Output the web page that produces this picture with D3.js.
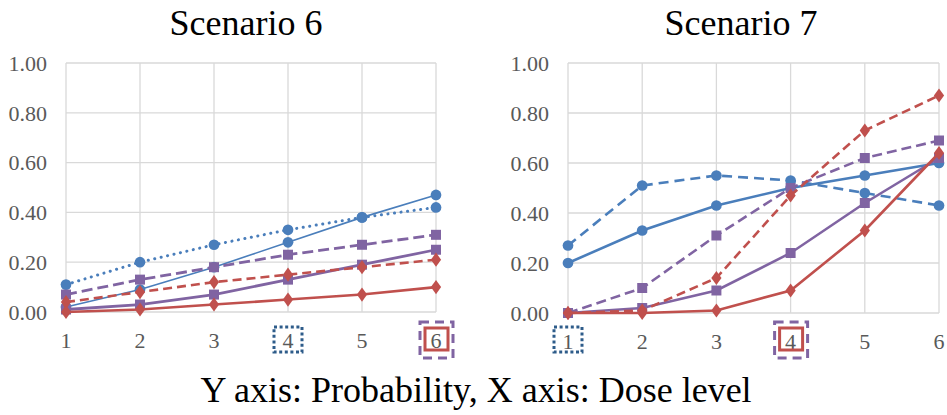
<!DOCTYPE html>
<html>
<head>
<meta charset="utf-8">
<script src="https://d3js.org/d3.v7.min.js"></script>
<style>
  body { margin: 0; background: #fff; }
</style>
</head>
<body>
<div id="chart"></div>
<script>
// dose levels and y ticks
const doses = [1, 2, 3, 4, 5, 6];
const yTicks = [0, 0.2, 0.4, 0.6, 0.8, 1.0];

// Scenario 6
const s6BlueSolid   = [0.02, 0.09, 0.18, 0.28, 0.38, 0.47];
const s6BlueDotted  = [0.11, 0.20, 0.27, 0.33, 0.38, 0.42];
const s6PurpleDash  = [0.07, 0.13, 0.18, 0.23, 0.27, 0.31];
const s6PurpleSolid = [0.01, 0.03, 0.07, 0.13, 0.19, 0.25];
const s6RedDash     = [0.04, 0.08, 0.12, 0.15, 0.18, 0.21];
const s6RedSolid    = [0.00, 0.01, 0.03, 0.05, 0.07, 0.10];

// Scenario 7
const s7BlueSolid   = [0.20, 0.33, 0.43, 0.50, 0.55, 0.60];
const s7BlueDash    = [0.27, 0.51, 0.55, 0.53, 0.48, 0.43];
const s7PurpleDash  = [0.00, 0.10, 0.31, 0.50, 0.62, 0.69];
const s7PurpleSolid = [0.00, 0.02, 0.09, 0.24, 0.44, 0.62];
const s7RedDash     = [0.00, 0.01, 0.14, 0.47, 0.73, 0.87];
const s7RedSolid    = [0.00, 0.00, 0.01, 0.09, 0.33, 0.64];

// highlighted dose labels
const s6Dotted = [4], s6Boxed = [6];
const s7Dotted = [1], s7Boxed = [4];

const blue = "#4a7ebb", purple = "#8064a2", red = "#c0504d", navy = "#2e5c8a";
const serif = "'Liberation Serif', Tinos, 'Times New Roman', 'DejaVu Serif', serif";

const width = 947, height = 415;
const svg = d3.select("#chart").append("svg")
  .attr("width", width).attr("height", height)
  .style("font-family", serif);

function panel(opts) {
  const x = d3.scaleLinear().domain([1, 6]).range([opts.x0, opts.x1]);
  const y = d3.scaleLinear().domain([0, 1]).range([opts.y1, opts.y0]);
  const g = svg.append("g");

  // grid
  g.selectAll(".hg").data(yTicks).enter().append("line")
    .attr("x1", opts.x0).attr("x2", opts.x1)
    .attr("y1", d => y(d)).attr("y2", d => y(d))
    .attr("stroke", "#d9d9d9").attr("stroke-width", 1.3);
  g.selectAll(".vg").data(doses).enter().append("line")
    .attr("x1", d => x(d)).attr("x2", d => x(d))
    .attr("y1", y(0)).attr("y2", y(1))
    .attr("stroke", "#d9d9d9").attr("stroke-width", 1.3);

  // tick labels
  g.selectAll(".yl").data(yTicks).enter().append("text")
    .attr("x", opts.x0 - 19).attr("y", d => y(d)).attr("dy", "0.35em")
    .attr("text-anchor", "end").attr("font-size", 22).attr("fill", "#595959")
    .attr("font-family", serif)
    .text(d3.format(".2f"));
  g.selectAll(".xl").data(doses).enter().append("text")
    .attr("x", d => x(d)).attr("y", y(0) + 28).attr("dy", "0.35em")
    .attr("text-anchor", "middle").attr("font-size", 22).attr("fill", "#595959")
    .attr("font-family", serif)
    .text(d => d);

  // label highlight boxes
  opts.dotted.forEach(d => {
    g.append("rect").attr("x", x(d) - 14).attr("y", 327).attr("width", 28).attr("height", 25)
      .attr("fill", "none").attr("stroke", navy).attr("stroke-width", 3)
      .attr("stroke-dasharray", "3,2.6");
  });
  opts.boxed.forEach(d => {
    g.append("rect").attr("x", x(d) - 16).attr("y", 322).attr("width", 33).attr("height", 36)
      .attr("fill", "none").attr("stroke", purple).attr("stroke-width", 3)
      .attr("stroke-dasharray", "9,6");
    g.append("rect").attr("x", x(d) - 11).attr("y", 328).attr("width", 23).attr("height", 22)
      .attr("fill", "none").attr("stroke", red).attr("stroke-width", 3);
  });

  const line = d3.line().x((d, i) => x(doses[i])).y(d => y(d));

  opts.series.forEach(s => {
    g.append("path").datum(s.values)
      .attr("d", line).attr("fill", "none")
      .attr("stroke", s.color).attr("stroke-width", s.w)
      .attr("stroke-dasharray", s.dash || null)
      .attr("stroke-linecap", s.dash === "0.1,6.5" ? "round" : "butt");
    const sym = d3.symbol().type(s.shape).size(s.size);
    g.selectAll(null).data(s.values).enter().append("path")
      .attr("d", sym)
      .attr("transform", (d, i) =>
        `translate(${x(doses[i])},${y(d)})${s.shape === d3.symbolDiamond ? " scale(1.25,1)" : ""}`)
      .attr("fill", s.color);
  });

  svg.append("text")
    .attr("x", opts.tx).attr("y", 35)
    .attr("text-anchor", "middle").attr("font-size", 36).attr("fill", "#000")
    .attr("font-family", serif)
    .text(opts.title);
}

panel({
  title: "Scenario 6", tx: 246,
  x0: 66, x1: 436, y0: 63, y1: 312,
  dotted: s6Dotted, boxed: s6Boxed,
  series: [
    { values: s6BlueDotted,  color: blue,   w: 3,   dash: "0.1,6.5", shape: d3.symbolCircle,  size: 90 },
    { values: s6BlueSolid,   color: blue,   w: 1.6, shape: d3.symbolCircle,  size: 90 },
    { values: s6PurpleDash,  color: purple, w: 2.8, dash: "11,5", shape: d3.symbolSquare,  size: 100 },
    { values: s6PurpleSolid, color: purple, w: 2.8, shape: d3.symbolSquare,  size: 100 },
    { values: s6RedDash,     color: red,    w: 2.6, dash: "9,5", shape: d3.symbolDiamond, size: 58 },
    { values: s6RedSolid,    color: red,    w: 2.6, shape: d3.symbolDiamond, size: 58 }
  ]
});

panel({
  title: "Scenario 7", tx: 741,
  x0: 568, x1: 939, y0: 63, y1: 313,
  dotted: s7Dotted, boxed: s7Boxed,
  series: [
    { values: s7BlueDash,    color: blue,   w: 2.6, dash: "10,6", shape: d3.symbolCircle,  size: 90 },
    { values: s7BlueSolid,   color: blue,   w: 2.6, shape: d3.symbolCircle,  size: 90 },
    { values: s7PurpleDash,  color: purple, w: 2.6, dash: "10,5", shape: d3.symbolSquare,  size: 100 },
    { values: s7PurpleSolid, color: purple, w: 2.6, shape: d3.symbolSquare,  size: 100 },
    { values: s7RedDash,     color: red,    w: 2.6, dash: "9,5", shape: d3.symbolDiamond, size: 58 },
    { values: s7RedSolid,    color: red,    w: 2.6, shape: d3.symbolDiamond, size: 58 }
  ]
});

svg.append("text")
  .attr("x", 476).attr("y", 402)
  .attr("text-anchor", "middle").attr("font-size", 36).attr("fill", "#000")
  .attr("font-family", serif)
  .text("Y axis: Probability, X axis: Dose level");
</script>
</body>
</html>
